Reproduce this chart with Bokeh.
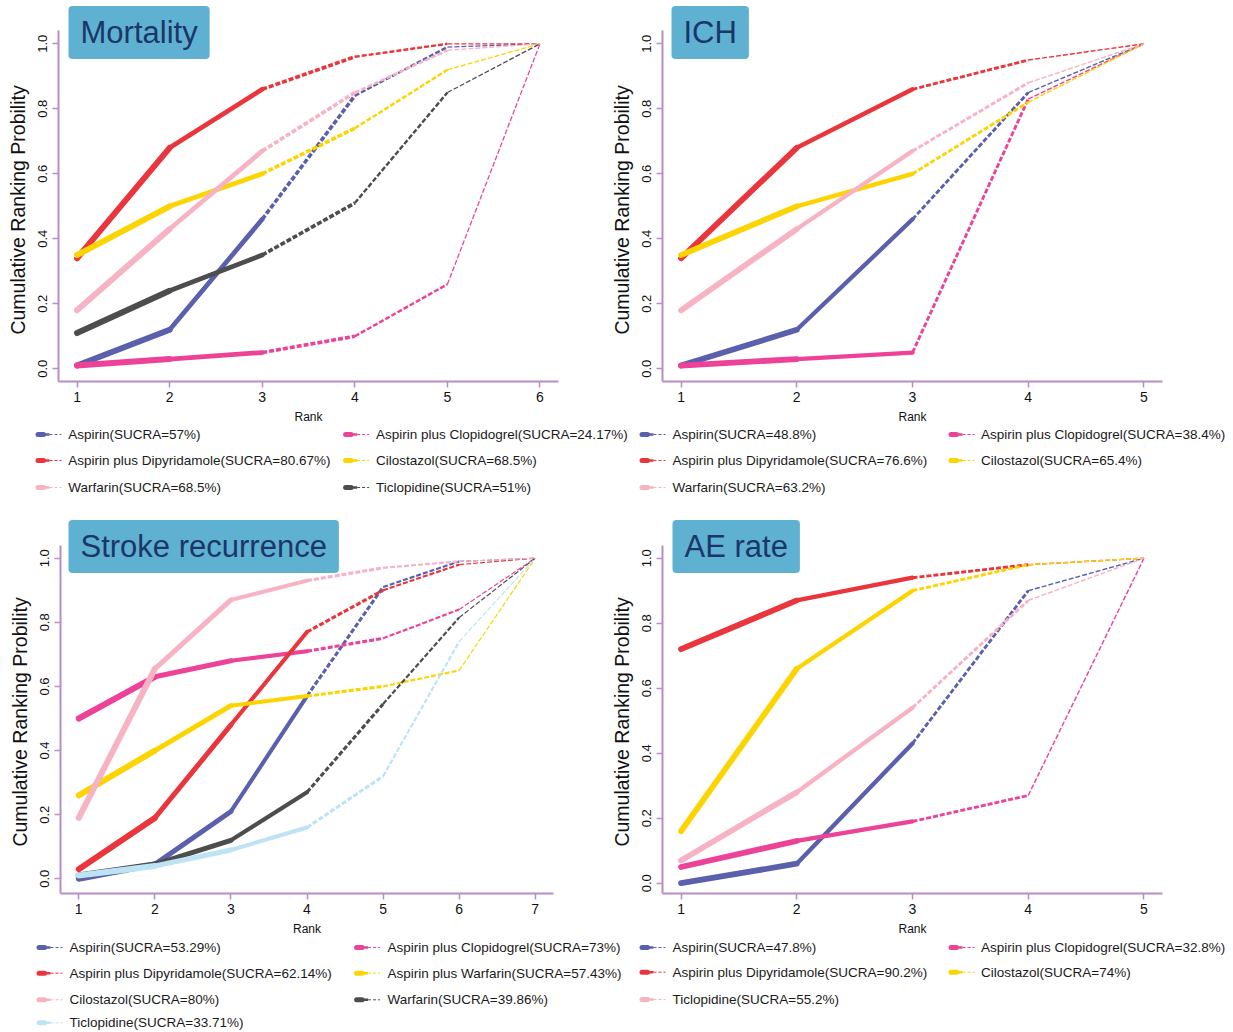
import numpy as np
from bokeh.plotting import figure
from bokeh.models import Range1d, FixedTicker, PrintfTickFormatter, Label, ColumnDataSource
from bokeh.layouts import column, row
from bokeh.embed import file_html
from bokeh.resources import INLINE
from bokeh.core.properties import value

# ---------------- data ----------------
mortality_ranks = [1, 2, 3, 4, 5, 6]
mortality_names = ["Aspirin", "Aspirin plus Clopidogrel", "Aspirin plus Dipyridamole",
                   "Cilostazol", "Warfarin", "Ticlopidine"]
mortality_sucra = ["57%", "24.17%", "80.67%", "68.5%", "68.5%", "51%"]
mortality_aspirin = [0.01, 0.12, 0.46, 0.84, 0.99, 1.00]
mortality_asp_clop = [0.01, 0.03, 0.05, 0.10, 0.26, 1.00]
mortality_asp_dipy = [0.34, 0.68, 0.86, 0.96, 1.00, 1.00]
mortality_cilostazol = [0.35, 0.50, 0.60, 0.74, 0.92, 1.00]
mortality_warfarin = [0.18, 0.43, 0.67, 0.85, 0.98, 1.00]
mortality_ticlopidine = [0.11, 0.24, 0.35, 0.51, 0.85, 1.00]

ich_ranks = [1, 2, 3, 4, 5]
ich_names = ["Aspirin", "Aspirin plus Clopidogrel", "Aspirin plus Dipyridamole",
             "Cilostazol", "Warfarin"]
ich_sucra = ["48.8%", "38.4%", "76.6%", "65.4%", "63.2%"]
ich_aspirin = [0.01, 0.12, 0.46, 0.85, 1.00]
ich_asp_clop = [0.01, 0.03, 0.05, 0.83, 1.00]
ich_asp_dipy = [0.34, 0.68, 0.86, 0.95, 1.00]
ich_cilostazol = [0.35, 0.50, 0.60, 0.82, 1.00]
ich_warfarin = [0.18, 0.43, 0.67, 0.88, 1.00]

stroke_ranks = [1, 2, 3, 4, 5, 6, 7]
stroke_names = ["Aspirin", "Aspirin plus Clopidogrel", "Aspirin plus Dipyridamole",
                "Aspirin plus Warfarin", "Cilostazol", "Warfarin", "Ticlopidine"]
stroke_sucra = ["53.29%", "73%", "62.14%", "57.43%", "80%", "39.86%", "33.71%"]
stroke_aspirin = [0.00, 0.045, 0.21, 0.57, 0.91, 0.99, 1.00]
stroke_asp_clop = [0.50, 0.63, 0.68, 0.71, 0.75, 0.84, 1.00]
stroke_asp_dipy = [0.03, 0.19, 0.48, 0.77, 0.90, 0.98, 1.00]
stroke_asp_warf = [0.26, 0.40, 0.54, 0.57, 0.60, 0.65, 1.00]
stroke_cilostazol = [0.19, 0.655, 0.87, 0.93, 0.97, 0.99, 1.00]
stroke_warfarin = [0.01, 0.045, 0.12, 0.27, 0.545, 0.815, 1.00]
stroke_ticlopidine = [0.01, 0.04, 0.09, 0.16, 0.32, 0.74, 1.00]

ae_ranks = [1, 2, 3, 4, 5]
ae_names = ["Aspirin", "Aspirin plus Clopidogrel", "Aspirin plus Dipyridamole",
            "Cilostazol", "Ticlopidine"]
ae_sucra = ["47.8%", "32.8%", "90.2%", "74%", "55.2%"]
ae_aspirin = [0.00, 0.06, 0.43, 0.90, 1.00]
ae_asp_clop = [0.05, 0.13, 0.19, 0.27, 1.00]
ae_asp_dipy = [0.72, 0.87, 0.94, 0.98, 1.00]
ae_cilostazol = [0.16, 0.66, 0.90, 0.98, 1.00]
ae_ticlopidine = [0.07, 0.28, 0.54, 0.87, 1.00]

y_ticks = [0.0, 0.2, 0.4, 0.6, 0.8, 1.0]
y_label = "Cumulative Ranking Probility"
x_label = "Rank"

# ---------------- style ----------------
PALETTE = ["#5b60ad", "#ec4398", "#e9353b", "#fcd400", "#f7b2c3", "#4d4d4d", "#bde3f5"]
PURPLE = "#b98dc6"
BOX = "#5fb1d2"
NAVY = "#1b3668"
FONT = "Liberation Sans"
LEGEND_FONT = "Liberation Sans"


def panel(title, ranks, series, width, height, bl, br, frame_bottom, y0_px, y1_px, box_x, box_y):
    """frame_bottom / y0_px / y1_px: pixel rows (from canvas top) of the x axis, y=0 and y=1."""
    n = len(ranks)
    pad = 0.04 * (n - 1)
    scale = y0_px - y1_px
    y_start = -(frame_bottom - y0_px) / scale
    y_end = 1.0 + y1_px / scale            # frame reaches canvas top so the title box is not clipped
    p = figure(width=width, height=height,
               x_range=Range1d(ranks[0] - pad, ranks[-1] + pad),
               y_range=Range1d(y_start, y_end),
               output_backend="svg", toolbar_location=None,
               min_border_left=bl, min_border_right=br,
               min_border_top=0, min_border_bottom=height - frame_bottom)
    p.grid.visible = False
    p.outline_line_color = None
    p.background_fill_color = "white"
    r = np.array(ranks, dtype=float)
    for i, vals in enumerate(series):
        color = PALETTE[i]
        v = np.array(vals, dtype=float)
        x0, x1, y0, y1 = r[:-1], r[1:], v[:-1], v[1:]
        tmid = ((x0 + x1) / 2 - r[0]) / (r[-1] - r[0])
        w = 6.5 - 5.8 * tmid
        solid = tmid < 0.5
        src_s = ColumnDataSource(dict(x0=x0[solid], x1=x1[solid], y0=y0[solid], y1=y1[solid], w=w[solid]))
        src_d = ColumnDataSource(dict(x0=x0[~solid], x1=x1[~solid], y0=y0[~solid], y1=y1[~solid], w=w[~solid]))
        p.segment(x0="x0", y0="y0", x1="x1", y1="y1", line_width="w", line_color=color,
                  line_cap="round", source=src_s)
        p.segment(x0="x0", y0="y0", x1="x1", y1="y1", line_width="w", line_color=color,
                  line_dash="5 2", line_cap="butt", source=src_d)

    p.xaxis.ticker = FixedTicker(ticks=list(ranks))
    p.yaxis.ticker = FixedTicker(ticks=y_ticks)
    p.yaxis.formatter = PrintfTickFormatter(format="%.1f")
    p.yaxis.bounds = (y_start, 1.04)
    for ax in (p.xaxis[0], p.yaxis[0]):
        ax.axis_line_color = PURPLE
        ax.axis_line_width = 2
        ax.major_tick_line_color = PURPLE
        ax.major_tick_line_width = 1.5
        ax.major_tick_in = 0
        ax.major_tick_out = 6
        ax.minor_tick_line_color = None
        ax.major_label_text_font = FONT
        ax.major_label_text_color = "#111111"
        ax.axis_label_text_font = FONT
        ax.axis_label_text_font_style = "normal"
        ax.axis_label_text_color = "#111111"
    p.xaxis.major_label_text_font_size = "14px"
    p.xaxis.major_label_standoff = 4
    p.xaxis.axis_label = x_label
    p.xaxis.axis_label_text_font_size = "12px"
    p.xaxis.axis_label_standoff = 5
    p.yaxis.major_label_text_font_size = "13px"
    p.yaxis.major_label_orientation = "vertical"
    p.yaxis.major_label_standoff = 5
    # the label is centred on the (taller) frame; trailing no-break spaces re-centre it on the axis
    p.yaxis.axis_label = y_label + "\u00a0" * 7
    p.yaxis.axis_label_text_font_size = "19.5px"
    p.yaxis.axis_label_standoff = 7

    lab = Label(x=box_x, y=box_y, x_units="screen", y_units="screen", text=title,
                text_font=FONT, text_font_size="31px", text_color=NAVY,
                text_align="left", text_baseline="middle",
                background_fill_color=BOX, border_line_color=None,
                padding=(12, 9), border_radius=4)
    p.add_layout(lab)
    return p


tl = panel("Mortality", mortality_ranks,
           [mortality_aspirin, mortality_asp_clop, mortality_asp_dipy,
            mortality_cilostazol, mortality_warfarin, mortality_ticlopidine],
           600, 426, 58, 42, 381, 368.3, 43.3, 10, 349)
tr = panel("ICH", ich_ranks,
           [ich_aspirin, ich_asp_clop, ich_asp_dipy, ich_cilostazol, ich_warfarin],
           633, 426, 62, 71, 381, 368.3, 43.3, 9, 349)
bl = panel("Stroke recurrence", stroke_ranks,
           [stroke_aspirin, stroke_asp_clop, stroke_asp_dipy, stroke_asp_warf,
            stroke_cilostazol, stroke_warfarin, stroke_ticlopidine],
           600, 429, 60, 47, 381, 366.3, 45.7, 8, 347)
br = panel("AE rate", ae_ranks,
           [ae_aspirin, ae_asp_clop, ae_asp_dipy, ae_cilostazol, ae_ticlopidine],
           633, 429, 62, 71, 381, 370.7, 45.7, 10, 347)


def legend_fig(height, top, groups):
    p = figure(width=1233, height=height, x_range=Range1d(0, 1233),
               y_range=Range1d(top + height, top), output_backend="svg",
               toolbar_location=None, x_axis_location=None, y_axis_location=None,
               min_border=0)
    p.grid.visible = False
    p.outline_line_color = None
    for names, sucra, icon_x, text_x, rows_y in groups:
        tx, ty, tt = [], [], []
        for k, (nm, s) in enumerate(zip(names, sucra)):
            rr, cc = divmod(k, 2)
            x0 = icon_x[cc]
            y = rows_y[rr]
            col = PALETTE[k]
            p.segment(x0=[x0 + 2.5], y0=[y], x1=[x0 + 8], y1=[y], line_width=5,
                      line_color=col, line_cap="round")
            p.segment(x0=[x0 + 8], y0=[y], x1=[x0 + 14], y1=[y], line_width=2.5,
                      line_color=col)
            p.segment(x0=[x0 + 14], y0=[y], x1=[x0 + 26], y1=[y], line_width=1,
                      line_color=col, line_dash="3 2")
            tx.append(text_x[cc])
            ty.append(y)
            tt.append(f"{nm}(SUCRA={s})")
        p.text(x=tx, y=ty, text=tt, text_font=value(LEGEND_FONT), text_font_size="13.5px",
               text_baseline="middle", text_align="left", text_color="#1a1a1a")
    return p


leg_top = legend_fig(86, 426, [
    (mortality_names, mortality_sucra, [35, 342.6], [67.7, 375.4], [434, 460, 487]),
    (ich_names, ich_sucra, [639, 948], [672, 980.5], [434, 460, 487]),
])
leg_bot = legend_fig(91, 941, [
    (stroke_names, stroke_sucra, [36, 353.6], [69, 387], [947, 972.7, 999.3, 1022.3]),
    (ae_names, ae_sucra, [639, 948], [672, 980.5], [947, 971.7, 999]),
])

layout = column(row(tl, tr), leg_top, row(bl, br), leg_bot)

open("out.html", "w").write(file_html(layout, INLINE))
